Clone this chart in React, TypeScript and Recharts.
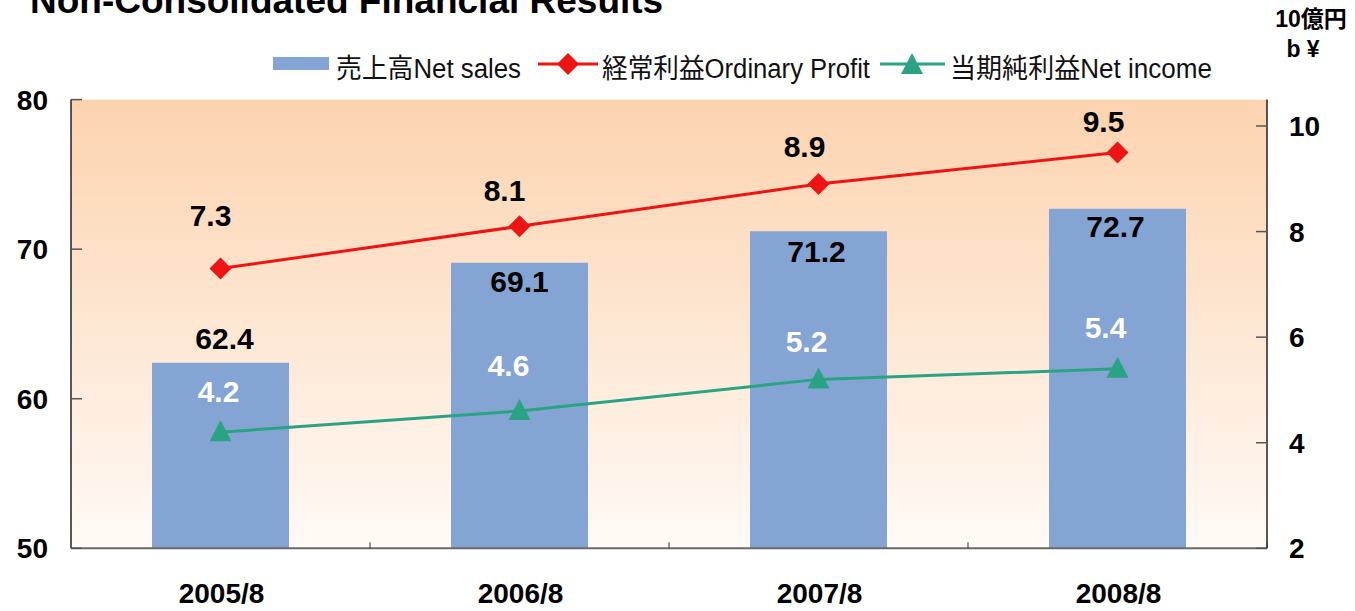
import React from 'react';
import { ComposedChart, Bar, Line, XAxis, YAxis, CartesianGrid, Legend, LabelList } from 'recharts';

// ---- data ----
const periods = ['2005/8', '2006/8', '2007/8', '2008/8'];
const netSales = [62.4, 69.1, 71.2, 72.7];
const ordinaryProfit = [7.3, 8.1, 8.9, 9.5];
const netIncome = [4.2, 4.6, 5.2, 5.4];
const leftTicks = [50, 60, 70, 80];
const rightTicks = [2, 4, 6, 8, 10];

const titleText = 'Non-Consolidated Financial Results';
const unitLine1 = '10億円';
const unitLine2 = 'b¥';
const salesName = '売上高Net sales';
const ordinaryName = '経常利益Ordinary Profit';
const netName = '当期純利益Net income';

const data = periods.map((p, i) => ({
  period: p,
  sales: netSales[i],
  ordinary: ordinaryProfit[i],
  net: netIncome[i],
}));

// ---- styles ----
const FONT = "'Liberation Sans', Arial, 'Noto Sans CJK JP', sans-serif";
const LEG_FONT = "'Liberation Sans', Arial, 'Noto Sans CJK JP', sans-serif";
const BAR = '#84A5D3';
const RED = '#EE1414';
const GREEN = '#2AA384';

// manual label offsets (dx from centre, dy of baseline from anchor)
const salesDx = [4, 0, -2, -2];
const salesDy = [-14, 29, 31, 28];
const ordDx = [-10, -15, -14, -14];
const ordDy = [-43, -25, -27, -20];
const netDx = [-2, -11, -12, -12];
const netDy = [-30, -35, -27, -31];

const pickIndex = (props: any, arr: number[]) =>
  typeof props.index === 'number' ? props.index : arr.indexOf(props.value);

const makeLabel = (arr: number[], dxs: number[], dys: number[], color: string, isBar: boolean) =>
  (props: any) => {
    const vb = props.viewBox || {};
    const i = pickIndex(props, arr);
    const x0 = vb.x ?? props.x;
    const y0 = vb.y ?? props.y;
    const w = isBar ? (vb.width ?? props.width ?? 0) : 0;
    let top = y0;
    if (isBar && vb.height < 0) top = y0 + vb.height;
    return (
      <text
        x={x0 + w / 2 + (dxs[i] ?? 0)}
        y={top + (dys[i] ?? 0)}
        textAnchor="middle"
        fontFamily={FONT}
        fontWeight="bold"
        fontSize={30}
        fill={color}
      >
        {props.value}
      </text>
    );
  };

const Diamond = (props: any) => {
  const { cx, cy } = props;
  if (cx == null || cy == null) return null;
  const r = 11;
  return <polygon points={`${cx},${cy - r} ${cx + r},${cy} ${cx},${cy + r} ${cx - r},${cy}`} fill={RED} />;
};

const Triangle = (props: any) => {
  const { cx, cy } = props;
  if (cx == null || cy == null) return null;
  return <polygon points={`${cx},${cy - 12} ${cx + 11},${cy + 9} ${cx - 11},${cy + 9}`} fill={GREEN} />;
};

const XTick = (props: any) => {
  const { x, y, payload } = props;
  const w = typeof props.width === 'number' && props.width > 100 ? props.width : 1196;
  const half = w / periods.length / 2;
  return (
    <g>
      <line x1={x + half} x2={x + half} y1={y} y2={y - 6} stroke="#333" strokeWidth={1} />
      <text x={x + 1} y={y + 55} textAnchor="middle" fontFamily={FONT} fontWeight="bold" fontSize={28} fill="#000">
        {payload.value}
      </text>
    </g>
  );
};

const LegendContent = () => (
  <svg width={1355} height={90} style={{ display: 'block' }}>
    <rect x={273} y={57} width={56} height={13} fill={BAR} />
    <text x={336} y={78} fontFamily={LEG_FONT} fontSize={27} fill="#111" textLength={185} lengthAdjust="spacingAndGlyphs">{salesName}</text>
    <line x1={538} x2={598} y1={64} y2={64} stroke={RED} strokeWidth={3} />
    <Diamond cx={568} cy={64} />
    <text x={602} y={78} fontFamily={LEG_FONT} fontSize={27} fill="#111" textLength={268} lengthAdjust="spacingAndGlyphs">{ordinaryName}</text>
    <line x1={880} x2={945} y1={64} y2={64} stroke={GREEN} strokeWidth={3} />
    <Triangle cx={912} cy={65} />
    <text x={950} y={78} fontFamily={LEG_FONT} fontSize={27} fill="#111" textLength={262} lengthAdjust="spacingAndGlyphs">{netName}</text>
  </svg>
);

export default function App() {
  return (
    <div style={{ position: 'absolute', left: 0, top: 0, width: 1355, height: 611, background: '#fff' }}>
      <ComposedChart
        width={1355}
        height={611}
        data={data}
        margin={{ top: 99.6, right: 0, bottom: 0, left: 0 }}
      >
        <defs>
          <linearGradient id="bgGrad" x1="0" y1="0" x2="0" y2="1">
            <stop offset="0%" stopColor="#FCD3AF" />
            <stop offset="100%" stopColor="#FFFAF6" />
          </linearGradient>
        </defs>
        <CartesianGrid yAxisId="left" horizontal={false} vertical={false} fill="url(#bgGrad)" stroke="none" />
        <XAxis
          dataKey="period"
          height={62.7}
          tickSize={0}
          tickMargin={0}
          tickLine={false}
          axisLine={{ stroke: '#6a6a6a', strokeWidth: 2 }}
          tick={<XTick />}
          interval={0}
        />
        <YAxis
          yAxisId="left"
          orientation="left"
          width={71}
          domain={[50, 80]}
          ticks={leftTicks}
          type="number"
          allowDataOverflow
          tickSize={-11}
          tickMargin={34}
          axisLine={{ stroke: '#222', strokeWidth: 1.5 }}
          tickLine={{ stroke: '#555', strokeWidth: 1.5 }}
          tick={{ fontFamily: FONT, fontWeight: 'bold', fontSize: 28, fill: '#000' }}
        />
        <YAxis
          yAxisId="right"
          orientation="right"
          width={88}
          domain={[2, 10.5]}
          ticks={rightTicks}
          type="number"
          allowDataOverflow
          tickSize={-11}
          tickMargin={33}
          axisLine={{ stroke: '#222', strokeWidth: 1.5 }}
          tickLine={{ stroke: '#555', strokeWidth: 1.5 }}
          tick={{ fontFamily: FONT, fontWeight: 'bold', fontSize: 28, fill: '#000', textAnchor: 'start' }}
        />
        <Legend
          verticalAlign="middle"
          align="center"
          layout="horizontal"
          content={<LegendContent />}
          wrapperStyle={{ top: 0, left: 0, width: 1355, height: 90, lineHeight: 0 }}
        />
        <Bar yAxisId="left" dataKey="sales" name={salesName} fill={BAR} barSize={137} isAnimationActive={false}>
          <LabelList dataKey="sales" content={makeLabel(netSales, salesDx, salesDy, '#000', true)} />
        </Bar>
        <Line
          yAxisId="right"
          type="linear"
          dataKey="ordinary"
          name={ordinaryName}
          stroke={RED}
          strokeWidth={3}
          dot={<Diamond />}
          activeDot={false}
          isAnimationActive={false}
        >
          <LabelList dataKey="ordinary" content={makeLabel(ordinaryProfit, ordDx, ordDy, '#000', false)} />
        </Line>
        <Line
          yAxisId="right"
          type="linear"
          dataKey="net"
          name={netName}
          stroke={GREEN}
          strokeWidth={3}
          dot={<Triangle />}
          activeDot={false}
          isAnimationActive={false}
        >
          <LabelList dataKey="net" content={makeLabel(netIncome, netDx, netDy, '#fff', false)} />
        </Line>
      </ComposedChart>
      <svg width={1355} height={70} style={{ position: 'absolute', left: 0, top: 0, pointerEvents: 'none' }}>
        <text x={30} y={13} fontFamily={FONT} fontWeight="bold" fontSize={37} fill="#000">{titleText}</text>
        <text x={1311} y={27} textAnchor="middle" fontFamily={FONT} fontWeight="bold" fontSize={23} fill="#000">{unitLine1}</text>
        <text x={1306} y={57} textAnchor="middle" fontFamily={FONT} fontWeight="bold" fontSize={23} letterSpacing={6} fill="#000">{unitLine2}</text>
      </svg>
    </div>
  );
}
